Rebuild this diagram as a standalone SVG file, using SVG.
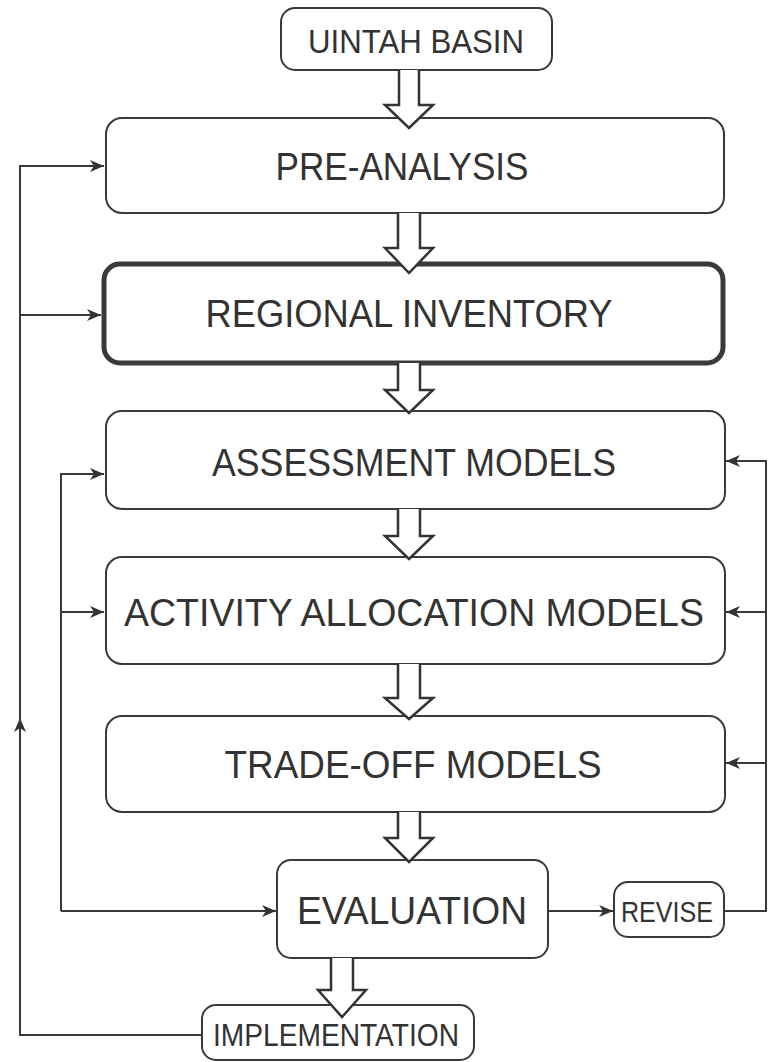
<svg xmlns="http://www.w3.org/2000/svg" width="769" height="1062" viewBox="0 0 769 1062">
<style>
.box{fill:#fff;stroke:#3a3a3a;stroke-width:2}
.thick{stroke-width:5}
.lbl{font-family:"Liberation Sans",Arial,sans-serif;fill:#333;text-anchor:middle}
.big{font-size:39px}
.blk{fill:#fff;stroke:#333;stroke-width:2.5;stroke-linejoin:miter}
.con{fill:none;stroke:#3a3a3a;stroke-width:2}
</style>
<defs>
<marker id="ah" markerUnits="userSpaceOnUse" markerWidth="14" markerHeight="12" refX="14" refY="6" orient="auto">
<path d="M0,0 L14,6 L0,12 L4,6 z" fill="#333"/>
</marker>
</defs>
<g id="connectors">
<path class="con" d="M202,1035 H20 V718" marker-end="url(#ah)"/>
<path class="con" d="M20,722 V166 H104" marker-end="url(#ah)"/>
<path class="con" d="M20,315 H101" marker-end="url(#ah)"/>
<path class="con" d="M61,911 V474 H104" marker-end="url(#ah)"/>
<path class="con" d="M61,612 H104" marker-end="url(#ah)"/>
<path class="con" d="M61,911 H276" marker-end="url(#ah)"/>
<path class="con" d="M548,911 H613" marker-end="url(#ah)"/>
<path class="con" d="M724,911 H766 V461 H726" marker-end="url(#ah)"/>
<path class="con" d="M766,612 H726" marker-end="url(#ah)"/>
<path class="con" d="M766,763 H726" marker-end="url(#ah)"/>
</g>
<g id="uintah">
<rect class="box" x="281" y="8" width="271" height="62" rx="14"/>
<text class="lbl" x="416" y="53" font-size="34" textLength="216" lengthAdjust="spacingAndGlyphs">UINTAH BASIN</text>
</g>
<g id="preanalysis">
<rect class="box" x="106" y="118" width="618" height="95" rx="16"/>
<text class="lbl big" x="402" y="180" textLength="253" lengthAdjust="spacingAndGlyphs">PRE-ANALYSIS</text>
</g>
<g id="regional">
<rect class="box thick" x="104" y="264" width="619" height="99" rx="16"/>
<text class="lbl big" x="409" y="327" textLength="407" lengthAdjust="spacingAndGlyphs">REGIONAL INVENTORY</text>
</g>
<g id="assessment">
<rect class="box" x="106" y="411" width="619" height="98" rx="16"/>
<text class="lbl big" x="414" y="476" textLength="404" lengthAdjust="spacingAndGlyphs">ASSESSMENT MODELS</text>
</g>
<g id="activity">
<rect class="box" x="106" y="557" width="619" height="107" rx="16"/>
<text class="lbl big" x="414" y="626" textLength="580" lengthAdjust="spacingAndGlyphs">ACTIVITY ALLOCATION MODELS</text>
</g>
<g id="tradeoff">
<rect class="box" x="106" y="716" width="619" height="96" rx="16"/>
<text class="lbl big" x="413" y="778" textLength="377" lengthAdjust="spacingAndGlyphs">TRADE-OFF MODELS</text>
</g>
<g id="evaluation">
<rect class="box" x="277" y="860" width="271" height="98" rx="14"/>
<text class="lbl big" x="412" y="924" textLength="230" lengthAdjust="spacingAndGlyphs">EVALUATION</text>
</g>
<g id="revise">
<rect class="box" x="614" y="882" width="110" height="55" rx="14"/>
<text class="lbl" x="667" y="922" font-size="29" textLength="92" lengthAdjust="spacingAndGlyphs">REVISE</text>
</g>
<g id="implementation">
<rect class="box" x="202" y="1005" width="272" height="55" rx="14"/>
<text class="lbl" x="336" y="1046" font-size="32" textLength="246" lengthAdjust="spacingAndGlyphs">IMPLEMENTATION</text>
</g>
<g id="block-arrows">
<path class="blk" d="M399,70 V105 H385 L409,128 L433,105 H419 V70"/>
<path class="blk" d="M398,213 V248 H385 L409,273 L433,248 H420 V213"/>
<path class="blk" d="M398,363 V390 H385 L409,413 L433,390 H420 V363"/>
<path class="blk" d="M398,509 V536 H385 L409,559 L433,536 H420 V509"/>
<path class="blk" d="M398,664 V698 H385 L409,719 L433,698 H420 V664"/>
<path class="blk" d="M398,812 V838 H385 L409,862 L433,838 H420 V812"/>
<path class="blk" d="M331,958 V990 H318 L342,1017 L366,990 H353 V958"/>
</g>
</svg>
